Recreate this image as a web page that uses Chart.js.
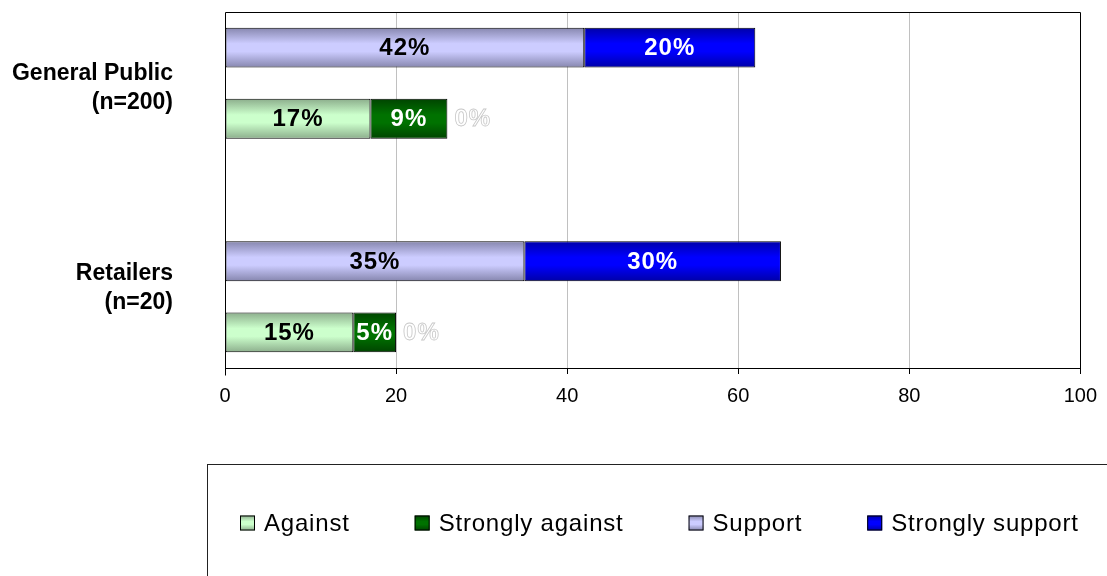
<!DOCTYPE html>
<html>
<head>
<meta charset="utf-8">
<script src="https://cdn.jsdelivr.net/npm/chart.js@4/dist/chart.umd.min.js"></script>
<style>
  html, body { margin: 0; padding: 0; background: #fff; }
  #wrap { width: 1107px; height: 576px; position: relative; }
</style>
</head>
<body>
<div id="wrap"><canvas id="chart"></canvas></div>
<script>
  /* === Data === */
  var groupNames = ['General Public', 'Retailers'];
  var groupSizes = ['(n=200)', '(n=20)'];
  var against = [17, 15];
  var stronglyAgainst = [9, 5];
  var unlabelled = [0, 0];          // zero series, only its 0% label shows
  var support = [42, 35];
  var stronglySupport = [20, 30];
  var xTicks = [0, 20, 40, 60, 80, 100];

  var FONT = "'Liberation Sans', Arial, sans-serif";

  // each group takes two rows (support on top, against below), then a spacer row
  var ROWS = groupNames.length * 3 - 1;
  function toRows(values, offset) {
    var out = [];
    for (var i = 0; i < ROWS; i++) out.push(null);
    values.forEach(function (v, g) { out[g * 3 + offset] = v; });
    return out;
  }
  var rowLabels = [];
  for (var r = 0; r < ROWS; r++) rowLabels.push('');

  var BAR_PCT = 0.56;

  // vertical banded gradient like the old office 3d-ish bars
  function bandFill(light, dark) {
    return function (c) {
      var chart = c.chart;
      var y = chart.scales.y;
      if (c.type !== 'data' || !chart.chartArea || !y) return light;
      var mid = y.getPixelForValue(c.dataIndex);
      var half = Math.abs(y.getPixelForValue(1) - y.getPixelForValue(0)) * BAR_PCT / 2;
      var g = chart.ctx.createLinearGradient(0, mid - half, 0, mid + half);
      g.addColorStop(0, dark);
      g.addColorStop(0.4, light);
      g.addColorStop(0.6, light);
      g.addColorStop(1, dark);
      return g;
    };
  }

  var series = [
    { label: 'Against', data: toRows(against, 1), light: '#CCFFCC', dark: '#8CAE8C', text: '#000' },
    { label: 'Strongly against', data: toRows(stronglyAgainst, 1), light: '#007200', dark: '#004400', text: '#fff' },
    { label: '', data: toRows(unlabelled, 1), light: '#fff', dark: '#fff', text: '#fff' },
    { label: 'Support', data: toRows(support, 0), light: '#CCCCFF', dark: '#8686AE', text: '#000' },
    { label: 'Strongly support', data: toRows(stronglySupport, 0), light: '#0000FF', dark: '#0000A8', text: '#fff' }
  ];

  var datasets = series.map(function (s) {
    return {
      label: s.label,
      data: s.data,
      backgroundColor: bandFill(s.light, s.dark),
      borderColor: '#000',
      borderWidth: 1,
      borderSkipped: false,
      barPercentage: BAR_PCT,
      categoryPercentage: 1,
      stack: 'one',
      textColor: s.text,
      swatch: s
    };
  });

  // percent labels inside each segment, zero values drawn as outlined text
  var valueLabels = {
    id: 'valueLabels',
    afterDatasetsDraw: function (chart) {
      var ctx = chart.ctx;
      ctx.save();
      ctx.font = 'bold 24px ' + FONT;
      ctx.letterSpacing = '1px';
      ctx.textBaseline = 'middle';
      chart.data.datasets.forEach(function (ds, di) {
        var meta = chart.getDatasetMeta(di);
        meta.data.forEach(function (el, i) {
          var v = ds.data[i];
          if (v === null || v === undefined) return;
          var p = el.getProps(['x', 'y', 'base'], true);
          var txt = v + '%';
          if (v === 0) {
            ctx.textAlign = 'left';
            ctx.lineWidth = 0.8;
            ctx.strokeStyle = '#C8C8C8';
            ctx.fillStyle = '#fff';
            ctx.fillText(txt, p.x + 7, p.y + 1);
            ctx.strokeText(txt, p.x + 7, p.y + 1);
          } else {
            ctx.textAlign = 'center';
            ctx.fillStyle = ds.textColor;
            ctx.fillText(txt, (p.x + p.base) / 2, p.y + 1);
          }
        });
      });
      ctx.restore();
    }
  };

  // group names on the left, placed through the row scale
  var groupLabelRows = [0.57, 3.38];   // label centres sit a little off the row pairs, as in the source
  var groupLabels = {
    id: 'groupLabels',
    afterDraw: function (chart) {
      var ctx = chart.ctx;
      var y = chart.scales.y;
      var a = chart.chartArea;
      ctx.save();
      ctx.font = 'bold 23px ' + FONT;
      ctx.fillStyle = '#000';
      ctx.textAlign = 'right';
      ctx.textBaseline = 'middle';
      groupNames.forEach(function (name, g) {
        var yc = y.getPixelForValue(groupLabelRows[g]);
        ctx.fillText(name, a.left - 52, yc - 14.5);
        ctx.fillText(groupSizes[g], a.left - 52, yc + 14.5);
      });
      ctx.restore();
    }
  };

  // plot frame + boxed legend underneath
  var frameAndLegend = {
    id: 'frameAndLegend',
    afterDraw: function (chart) {
      var ctx = chart.ctx;
      var a = chart.chartArea;
      var l = Math.round(a.left) + 0.5, t = Math.round(a.top) + 0.5;
      var rr = Math.round(a.right) + 0.5, b = Math.round(a.bottom) + 0.5;
      ctx.save();
      ctx.strokeStyle = '#000';
      ctx.lineWidth = 1;
      ctx.beginPath();
      ctx.moveTo(l, b + 7);
      ctx.lineTo(l, t);
      ctx.lineTo(rr, t);
      ctx.lineTo(rr, b);
      ctx.stroke();

      ctx.strokeStyle = '#222';
      ctx.strokeRect(207.5, 464.5, 1000, 200);

      ctx.font = '24px ' + FONT;
      ctx.letterSpacing = '0.8px';
      ctx.textBaseline = 'middle';
      ctx.textAlign = 'left';
      var x = 240, yc = 523, box = 15;
      chart.data.datasets.forEach(function (ds) {
        if (!ds.label) return;
        var s = ds.swatch;
        var g = ctx.createLinearGradient(0, yc - box / 2, 0, yc + box / 2);
        g.addColorStop(0, s.dark);
        g.addColorStop(0.4, s.light);
        g.addColorStop(0.6, s.light);
        g.addColorStop(1, s.dark);
        ctx.fillStyle = g;
        ctx.fillRect(x, yc - box / 2, box, box);
        ctx.strokeStyle = '#000';
        ctx.strokeRect(x + 0.5, yc - box / 2 + 0.5, box - 1, box - 1);
        ctx.fillStyle = '#000';
        ctx.fillText(ds.label, x + box + 9, yc + 1);
        x += box + 9 + ctx.measureText(ds.label).width + 65;
      });
      ctx.restore();
    }
  };

  new Chart(document.getElementById('chart'), {
    type: 'bar',
    data: { labels: rowLabels, datasets: datasets },
    options: {
      indexAxis: 'y',
      responsive: true,
      maintainAspectRatio: false,
      animation: false,
      layout: { padding: { top: 12, right: 24, bottom: 168, left: 225 } },
      plugins: {
        legend: { display: false },
        tooltip: { enabled: false }
      },
      scales: {
        x: {
          type: 'linear',
          stacked: true,
          min: 0,
          max: 100,
          afterBuildTicks: function (axis) {
            axis.ticks = xTicks.map(function (v) { return { value: v }; });
          },
          afterFit: function (axis) { axis.height = 40; },
          grid: {
            color: function (c) {
              return (c.tick && (c.tick.value === 0 || c.tick.value === 100)) ? 'rgba(0,0,0,0)' : '#C0C0C0';
            },
            tickColor: '#000',
            tickLength: 6
          },
          border: { color: '#000', width: 1 },
          ticks: {
            color: '#000',
            padding: 10,
            maxRotation: 0,
            font: { family: FONT, size: 20 }
          }
        },
        y: {
          type: 'category',
          stacked: true,
          display: false
        }
      }
    },
    plugins: [valueLabels, groupLabels, frameAndLegend]
  });
</script>
</body>
</html>
